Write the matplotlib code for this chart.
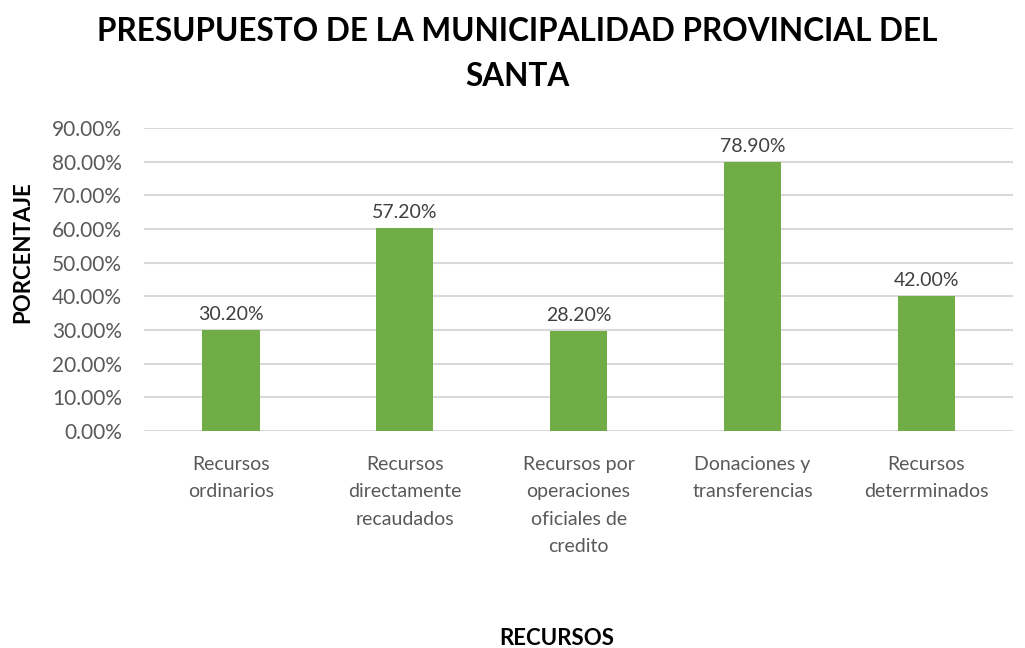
import matplotlib.pyplot as plt
from matplotlib.ticker import PercentFormatter

categorias = ['Recursos\nordinarios', 'Recursos\ndirectamente\nrecaudados',
              'Recursos por\noperaciones\noficiales de\ncredito',
              'Donaciones y\ntransferencias', 'Recursos\ndeterrminados']
# bar heights as drawn in the picture (the labels were typed separately)
alturas = [0.300, 0.603, 0.297, 0.800, 0.402]
etiquetas = ['30.20%', '57.20%', '28.20%', '78.90%', '42.00%']

plt.rcParams['font.family'] = ['Lato', 'DejaVu Sans']

fig = plt.figure(figsize=(10.25, 6.48), dpi=100)
ax = fig.add_axes([0.1405, 0.335, 0.848, 0.4675])

x = range(len(categorias))
bars = ax.bar(x, alturas, width=0.33, color='#70ad47', zorder=3)
for b, t in zip(bars, etiquetas):
    ax.text(b.get_x() + b.get_width() / 2, b.get_height() + 0.02, t,
            ha='center', va='bottom', fontsize=14, color='#404040')

ax.set_ylim(0, 0.9)
ax.set_xlim(-0.5, 4.5)
ax.set_yticks([i / 10 for i in range(10)])
ax.yaxis.set_major_formatter(PercentFormatter(1.0, decimals=2))
ax.set_xticks(list(x))
ax.set_xticklabels(categorias, fontsize=14, color='#595959', linespacing=1.75, va='top')
ax.tick_params(axis='y', labelsize=15, labelcolor='#595959', length=0, pad=16)
ax.tick_params(axis='x', length=0, pad=18)
ax.grid(axis='y', color='#d9d9d9', linewidth=1.5, zorder=0)
for s in ax.spines.values():
    s.set_visible(False)

fig.text(0.505, 0.868, 'PRESUPUESTO DE LA MUNICIPALIDAD PROVINCIAL DEL\nSANTA',
         ha='center', va='baseline', fontsize=22.7, fontweight='bold', linespacing=1.66)
fig.text(0.022, 0.611, 'PORCENTAJE', rotation=90, ha='center', va='center',
         fontsize=16, fontweight='bold')
fig.text(0.543, 0.004, 'RECURSOS', ha='center', va='baseline', fontsize=16, fontweight='bold')

fig.savefig('out.png', dpi=100)
